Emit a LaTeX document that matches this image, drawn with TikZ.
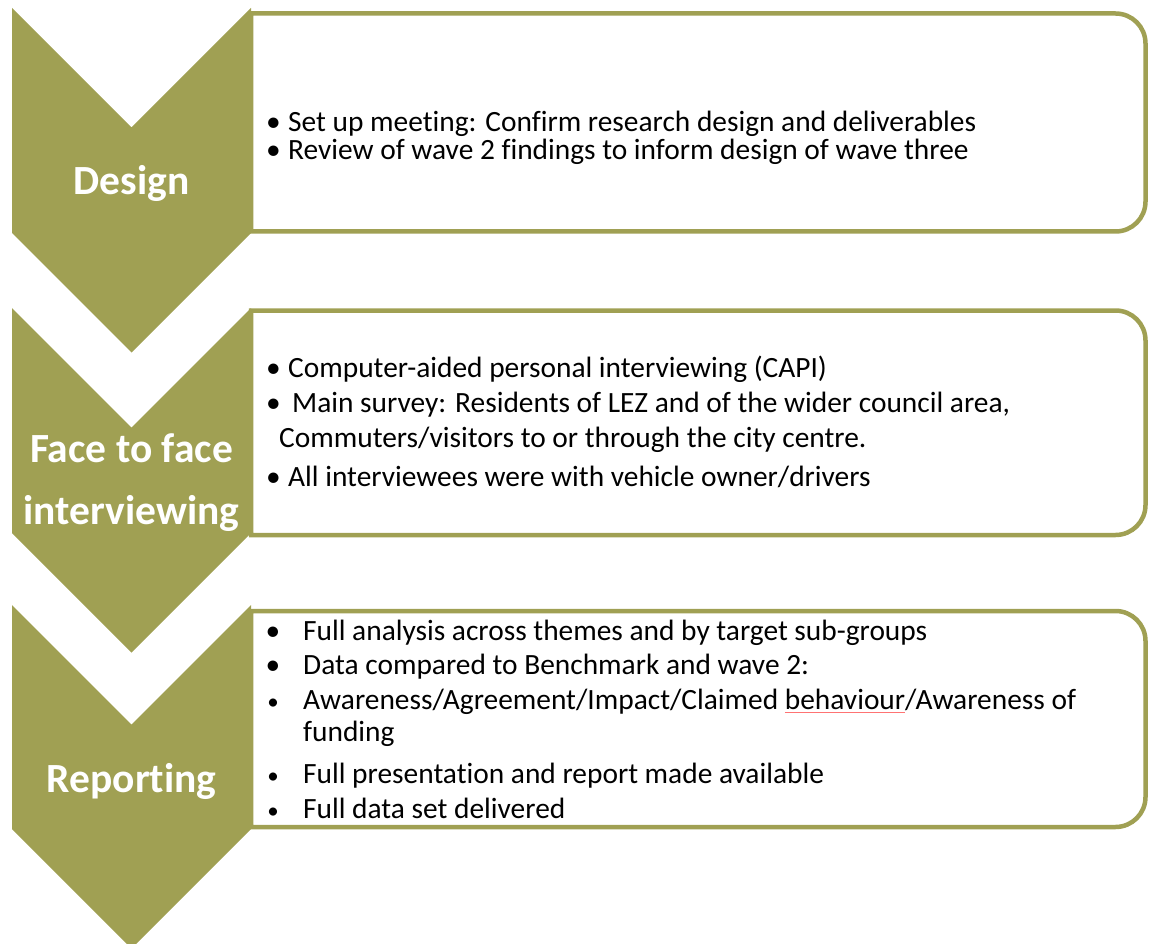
\documentclass[tikz,border=0pt]{standalone}
\usepackage{fontspec}
\setmainfont{Carlito}[Ligatures={NoCommon,NoContextual}, Contextuals={NoAlternate}, RawFeature={-liga;-clig;-calt;-dlig}]
\definecolor{stepolive}{RGB}{160,160,83}
\newcommand\squig[1]{\setbox0\hbox{#1}\rlap{\textcolor{red!55!white}{\rule[-3.5pt]{\wd0}{0.9pt}}}\box0}
\newcommand\panelbox[2]{%
  \draw[panel] (251,#1) -- (1115.5,#1)
    .. controls (1132.1,#1) and (1145.5,{#1+13.4}) .. (1145.5,{#1+30})
    -- (1145.5,{#2-30})
    .. controls (1145.5,{#2-13.4}) and (1132.1,#2) .. (1115.5,#2)
    -- (251,#2) -- cycle;}
\newcommand\chevron[3]{%
  \fill[stepolive] (12,#1) -- (131.5,{#1+119.5}) -- (251,#1) -- (251,#2)
    -- (131.5,#3) -- (12,#2) -- cycle;}
\begin{document}
\begin{tikzpicture}[x=1pt,y=-1pt,
  panel/.style={draw=stepolive, line width=4.5pt, fill=white},
  lbl/.style={text=white, anchor=base, inner sep=0pt,
    font=\fontsize{41.5}{45}\selectfont\bfseries},
  txt/.style={anchor=base west, inner sep=0pt, font=\fontsize{29.4}{34}\selectfont},
  bul/.style={anchor=base, inner sep=0pt, font=\fontsize{29.4}{34}\selectfont},
  bulsmall/.style={anchor=base, inner sep=0pt, font=\fontsize{23}{28}\selectfont}]
\useasboundingbox (0,0) rectangle (1149,944);
\clip (0,0) rectangle (1149,944);
% panels
\panelbox{13.5}{231.5}
\panelbox{310.5}{535}
\panelbox{611}{827}
% chevrons
\chevron{8}{233}{352.5}
\chevron{308}{533}{652.5}
\chevron{605}{829}{948.5}
% labels
\node[lbl] (l1) at (131.5,195) {Design};
\node[lbl] (l2a) at (131.5,462) {Face to face};
\node[lbl] (l2b) at (131.5,524) {interviewing};
\node[lbl] (l3) at (131.5,792) {Reporting};
% box 1
\node[bul] (b11) at (273.5,132) {•};
\node[txt] (t11) at (288,132) {Set up meeting: Confirm research design and deliverables};
\node[bul] (b12) at (273.5,160) {•};
\node[txt] (t12) at (288,160) {Review of wave 2 findings to inform design of wave three};
% box 2
\node[bul] (b21) at (273.5,377) {•};
\node[txt] (t21) at (288,377) {Computer-aided personal interviewing (CAPI)};
\node[bul] (b22) at (273.5,412.5) {•};
\node[txt] (t22) at (292,412.5) {Main survey: Residents of LEZ and of the wider council area,};
\node[txt] (t23) at (279,447) {Commuters/visitors to or through the city centre.};
\node[bul] (b24) at (273.5,486.5) {•};
\node[txt] (t24) at (288,486.5) {All interviewees were with vehicle owner/drivers};
% box 3
\node[bul] (b31) at (273,640) {•};
\node[txt] (t31) at (303,640) {Full analysis across themes and by target sub-groups};
\node[bul] (b32) at (273,674) {•};
\node[txt] (t32) at (303,674) {Data compared to Benchmark and wave 2:};
\node[bulsmall] (b33) at (273,709) {•};
\node[txt] (t33) at (303,709) {Awareness/Agreement/Impact/Claimed \squig{behaviour}/Awareness of};
\node[txt] (t34) at (303,741.5) {funding};
\node[bulsmall] (b35) at (273,783.5) {•};
\node[txt] (t35) at (303,783.5) {Full presentation and report made available};
\node[bulsmall] (b36) at (273,818) {•};
\node[txt] (t36) at (303,818) {Full data set delivered};
\end{tikzpicture}
\end{document}
